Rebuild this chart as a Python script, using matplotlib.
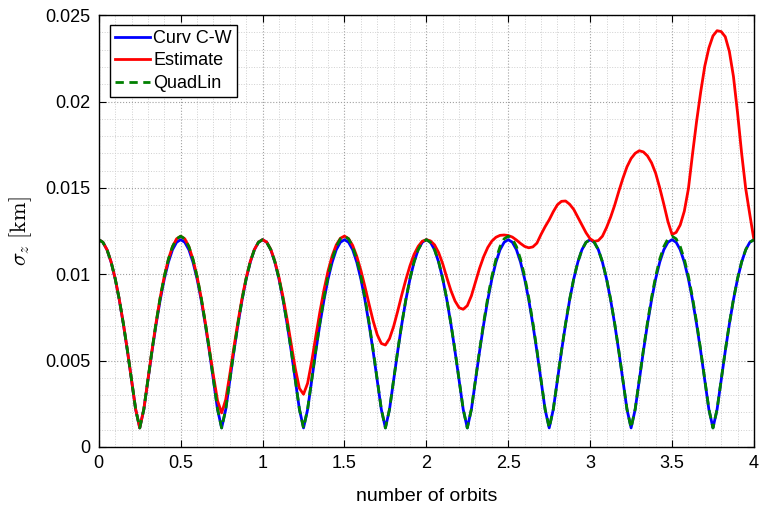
#sigma_z随轨道圈数的变化，三种方法对比
import numpy as np
import matplotlib
matplotlib.use('Agg')
import matplotlib.pyplot as plt
from matplotlib.ticker import MultipleLocator, FuncFormatter

# 横轴: 轨道圈数, 每 0.025 圈一个点
orbits = np.linspace(0, 4, 161)

# 数值单位为 1e-3 km, 画图时再换算
curv_cw = [
    12.00, 11.85, 11.42, 10.70, 9.73, 8.52, 7.11, 5.54, 3.85, 2.17, 1.10, 2.17, 3.85, 5.54, 7.11, 8.52, 9.73, 10.70, 11.42, 11.85,
    12.00, 11.85, 11.42, 10.70, 9.73, 8.52, 7.11, 5.54, 3.85, 2.17, 1.10, 2.17, 3.85, 5.54, 7.11, 8.52, 9.73, 10.70, 11.42, 11.85,
    12.00, 11.85, 11.42, 10.70, 9.73, 8.52, 7.11, 5.54, 3.85, 2.17, 1.10, 2.17, 3.85, 5.54, 7.11, 8.52, 9.73, 10.70, 11.42, 11.85,
    12.00, 11.85, 11.42, 10.70, 9.73, 8.52, 7.11, 5.54, 3.85, 2.17, 1.10, 2.17, 3.85, 5.54, 7.11, 8.52, 9.73, 10.70, 11.42, 11.85,
    12.00, 11.85, 11.42, 10.70, 9.73, 8.52, 7.11, 5.54, 3.85, 2.17, 1.10, 2.17, 3.85, 5.54, 7.11, 8.52, 9.73, 10.70, 11.42, 11.85,
    12.00, 11.85, 11.42, 10.70, 9.73, 8.52, 7.11, 5.54, 3.85, 2.17, 1.10, 2.17, 3.85, 5.54, 7.11, 8.52, 9.73, 10.70, 11.42, 11.85,
    12.00, 11.85, 11.42, 10.70, 9.73, 8.52, 7.11, 5.54, 3.85, 2.17, 1.10, 2.17, 3.85, 5.54, 7.11, 8.52, 9.73, 10.70, 11.42, 11.85,
    12.00, 11.85, 11.42, 10.70, 9.73, 8.52, 7.11, 5.54, 3.85, 2.17, 1.10, 2.17, 3.85, 5.54, 7.11, 8.52, 9.73, 10.70, 11.42, 11.85,
    12.00]

estimate = [
    12.00, 11.85, 11.42, 10.72, 9.75, 8.55, 7.14, 5.57, 3.88, 2.18, 1.10, 2.19, 3.90, 5.61, 7.21, 8.65, 9.88, 10.87, 11.60, 12.05,
    12.20, 12.05, 11.60, 10.86, 9.87, 8.64, 7.21, 5.65, 4.12, 2.68, 1.97, 2.74, 4.21, 5.77, 7.27, 8.63, 9.80, 10.74, 11.43, 11.86,
    12.00, 11.86, 11.44, 10.75, 9.82, 8.68, 7.37, 5.95, 4.52, 3.39, 3.05, 3.69, 4.95, 6.41, 7.82, 9.10, 10.20, 11.07, 11.70, 12.08,
    12.21, 12.06, 11.67, 11.04, 10.23, 9.28, 8.27, 7.30, 6.50, 5.99, 5.90, 6.27, 6.97, 7.86, 8.81, 9.69, 10.49, 11.15, 11.61, 11.91,
    12.00, 11.93, 11.70, 11.25, 10.60, 9.80, 9.05, 8.45, 8.06, 7.97, 8.18, 8.75, 9.55, 10.35, 11.02, 11.55, 11.92, 12.14, 12.25, 12.27,
    12.24, 12.15, 11.98, 11.78, 11.61, 11.53, 11.58, 11.80, 12.30, 12.75, 13.15, 13.62, 14.02, 14.22, 14.24, 14.05, 13.75, 13.30, 12.85, 12.40,
    12.05, 11.90, 11.95, 12.20, 12.70, 13.30, 14.00, 14.80, 15.55, 16.22, 16.70, 17.00, 17.15, 17.08, 16.85, 16.45, 15.85, 15.00, 14.05, 13.05,
    12.30, 12.42, 12.85, 13.65, 14.95, 16.95, 18.85, 20.55, 22.05, 23.10, 23.80, 24.10, 24.05, 23.75, 22.90, 21.45, 19.35, 17.00, 14.95, 13.45,
    12.00]

quadlin = [
    12.00, 11.85, 11.42, 10.72, 9.75, 8.55, 7.14, 5.57, 3.88, 2.18, 1.10, 2.19, 3.90, 5.61, 7.21, 8.65, 9.88, 10.87, 11.60, 12.05,
    12.20, 12.05, 11.60, 10.87, 9.88, 8.65, 7.21, 5.61, 3.90, 2.19, 1.10, 2.18, 3.88, 5.57, 7.14, 8.55, 9.75, 10.72, 11.42, 11.85,
    12.00, 11.85, 11.42, 10.72, 9.75, 8.55, 7.14, 5.57, 3.88, 2.18, 1.10, 2.19, 3.90, 5.61, 7.21, 8.65, 9.88, 10.87, 11.60, 12.05,
    12.20, 12.05, 11.60, 10.87, 9.88, 8.65, 7.21, 5.61, 3.90, 2.19, 1.10, 2.18, 3.88, 5.57, 7.14, 8.55, 9.75, 10.72, 11.42, 11.85,
    12.00, 11.85, 11.42, 10.72, 9.75, 8.55, 7.14, 5.57, 3.88, 2.18, 1.10, 2.19, 3.90, 5.61, 7.21, 8.65, 9.88, 10.87, 11.60, 12.05,
    12.20, 12.05, 11.60, 10.87, 9.88, 8.65, 7.21, 5.61, 3.90, 2.19, 1.10, 2.18, 3.88, 5.57, 7.14, 8.55, 9.75, 10.72, 11.42, 11.85,
    12.00, 11.85, 11.42, 10.72, 9.75, 8.55, 7.14, 5.57, 3.88, 2.18, 1.10, 2.19, 3.90, 5.61, 7.21, 8.65, 9.88, 10.87, 11.60, 12.05,
    12.20, 12.05, 11.60, 10.87, 9.88, 8.65, 7.21, 5.61, 3.90, 2.19, 1.10, 2.18, 3.88, 5.57, 7.14, 8.55, 9.75, 10.72, 11.42, 11.85,
    12.00]

series_names = ['Curv C-W', 'Estimate', 'QuadLin']

plt.rcParams['font.family'] = ['Liberation Sans', 'DejaVu Sans']
plt.rcParams['mathtext.fontset'] = 'cm'

fig = plt.figure(figsize=(7.6, 5.05), dpi=100)
ax = fig.add_axes([0.130, 0.115, 0.862, 0.855])

ax.plot(orbits, np.array(curv_cw) / 1000, color='#0000ff', lw=2.0, label=series_names[0])
ax.plot(orbits, np.array(estimate) / 1000, color='#ff0000', lw=2.0, label=series_names[1])
ax.plot(orbits, np.array(quadlin) / 1000, color='#008000', lw=2.0, ls=(0, (3, 2)), label=series_names[2])

ax.set_xlim(0, 4)
ax.set_ylim(0, 0.025)
ax.xaxis.set_major_locator(MultipleLocator(0.5))
ax.xaxis.set_minor_locator(MultipleLocator(0.1))
ax.yaxis.set_major_locator(MultipleLocator(0.005))
ax.yaxis.set_minor_locator(MultipleLocator(0.001))
ax.xaxis.set_major_formatter(FuncFormatter(lambda v, p: '%g' % round(v, 4)))
ax.yaxis.set_major_formatter(FuncFormatter(lambda v, p: '%g' % round(v, 4)))

#matlab风格: 刻度朝内, 四边都有
ax.tick_params(which='major', direction='in', length=5, width=0.8, top=True, right=True, labelsize=13, pad=6)
ax.tick_params(which='minor', length=0, top=True, right=True)
ax.grid(which='major', ls=':', color='#a0a0a0', lw=0.8)
ax.grid(which='minor', ls=':', color='#d0d0d0', lw=0.7)
ax.set_axisbelow(True)
for sp in ax.spines.values():
    sp.set_linewidth(1.0)

ax.set_xlabel('number of orbits', fontsize=14, labelpad=11)
ax.set_ylabel(r'$\sigma_z\ [\mathrm{km}]$', fontsize=16, labelpad=8)

leg = ax.legend(loc='upper left', bbox_to_anchor=(0.017, 0.978), borderaxespad=0, fontsize=13,
                handlelength=1.9, handletextpad=0.2, labelspacing=0.3, borderpad=0.3, fancybox=False)
leg.get_frame().set_edgecolor('black')
leg.get_frame().set_linewidth(1.0)
leg.get_frame().set_alpha(1)

plt.savefig('out.png', dpi=100)
